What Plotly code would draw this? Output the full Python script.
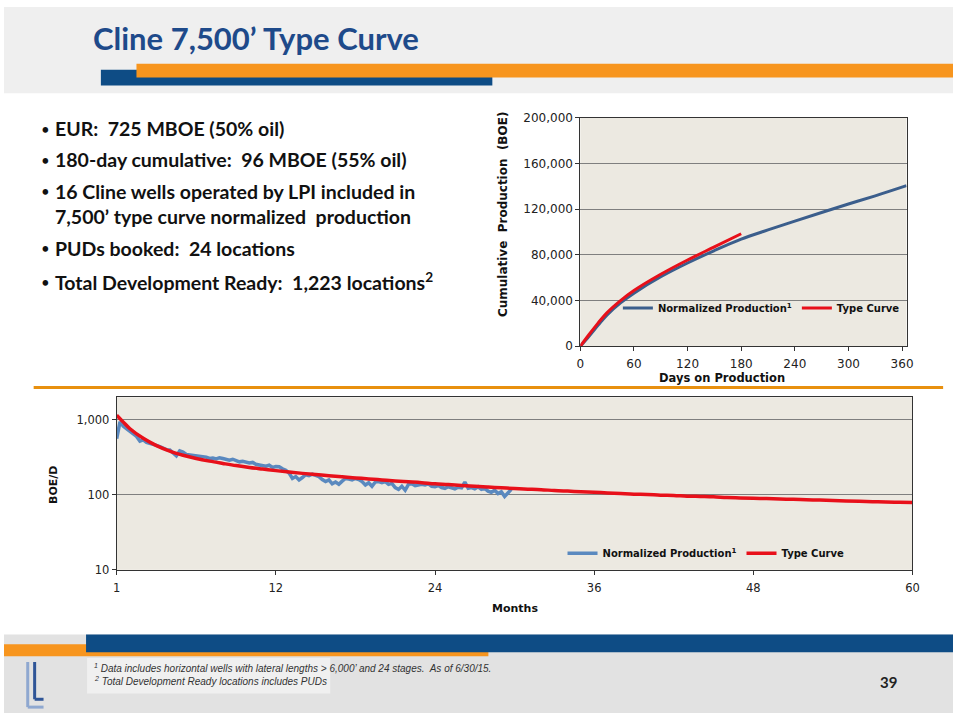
import plotly.graph_objects as go

# ----------------------------------------
# Top chart: cumulative production (BOE) vs days on production
cum_days_norm = [0, 10, 20, 30, 45, 60, 90, 120, 150, 180, 210, 240, 270, 300, 330, 365]
cum_boe_norm = [0, 9000, 18500, 27500, 38000, 46500, 60800, 72900, 83800, 93800,
                101900, 109600, 117100, 124500, 131700, 140600]
cum_days_tc = [0, 10, 20, 30, 45, 60, 90, 120, 150, 180]
cum_boe_tc = [0, 10500, 20500, 29500, 40000, 48800, 63000, 75500, 87000, 98500]

# ----------------------------------------
# Bottom chart: rate (BOE/D) vs months
tc_months = [0, 0.5] + list(range(1, 61))
tc_rate = [1150, 930, 760, 566, 452, 382, 337, 305, 281, 262, 245, 231,
           220, 210, 201, 193, 186, 180, 174, 168, 163, 158,
           153, 149, 145, 140, 137, 133, 130, 127, 124, 121,
           119, 117, 114, 112, 110, 108, 106, 104, 102, 101,
           99, 98, 96, 95, 94, 92, 91, 90, 89, 88,
           87, 86, 85, 84, 83, 82, 81, 80, 79.5, 79]

norm_step = 0.25
norm_rate = [560, 940, 820, 760, 700, 640, 600, 520, 540, 500, 480, 470,
             455, 440, 420, 400, 395, 360, 330, 385, 370, 345, 340, 330,
             325, 320, 315, 318, 305, 310, 300, 312, 305, 295, 290, 298,
             285, 275, 280, 270, 265, 270, 255, 250, 245, 240, 248, 232,
             238, 236, 222, 212, 195, 165, 175, 158, 170, 185, 180, 188,
             182, 175, 160, 150, 158, 140, 148, 138, 152, 165, 162, 158,
             165, 160, 150, 135, 145, 130, 148, 150, 145, 150, 138, 142,
             125, 118, 130, 115, 138, 140, 132, 135, 138, 135, 140, 130,
             128, 133, 125, 122, 128, 124, 120, 126, 124, 148, 122, 125,
             120, 128, 118, 122, 112, 108, 115, 104, 110, 95, 105, 118]
norm_months = [i * norm_step for i in range(len(norm_rate))]

month_ticks = [0, 12, 24, 36, 48, 60]
month_labels = ["1", "12", "24", "36", "48", "60"]

bullets = [
    "EUR:  725 MBOE (50% oil)",
    "180-day cumulative:  96 MBOE (55% oil)",
    "16 Cline wells operated by LPI included in<br>7,500\u2019 type curve normalized  production",
    "PUDs booked:  24 locations",
    "Total Development Ready:  1,223 locations<sup>2</sup>",
]
bullet_y = [124, 156, 188, 246, 280]
text_y = [124, 156, 200.5, 246, 280]

BLUE = "#3B5E8C"
BLUE_LIGHT = "#5A89BF"
RED = "#E8101A"
PLOT_BG = "#ECE9E1"
GRID = "#7F7F7F"
W, H = 960, 720


def px(x):
    return x / W


def py(y):
    return 1 - y / H


fig = go.Figure()

fig.add_trace(go.Scatter(x=cum_days_norm, y=cum_boe_norm, mode="lines", line_shape="spline",
                         name="Normalized Production<sup>1</sup>",
                         line=dict(color=BLUE, width=3), xaxis="x", yaxis="y", legend="legend"))
fig.add_trace(go.Scatter(x=cum_days_tc, y=cum_boe_tc, mode="lines", line_shape="spline",
                         name="Type Curve",
                         line=dict(color=RED, width=3), xaxis="x", yaxis="y", legend="legend"))

fig.add_trace(go.Scatter(x=norm_months, y=norm_rate, mode="lines",
                         name="Normalized Production<sup>1</sup>",
                         line=dict(color=BLUE_LIGHT, width=3.5), xaxis="x2", yaxis="y2", legend="legend2"))
fig.add_trace(go.Scatter(x=tc_months, y=tc_rate, mode="lines", line_shape="spline",
                         name="Type Curve",
                         line=dict(color=RED, width=3.5), xaxis="x2", yaxis="y2", legend="legend2"))

axis_common = dict(showline=True, linecolor="#333333", linewidth=1, mirror=True,
                   ticks="outside", ticklen=4, tickcolor="#333333",
                   zeroline=False, fixedrange=True)

legend_common = dict(orientation="h", bgcolor="rgba(0,0,0,0)", yanchor="middle", xanchor="left",
                     font=dict(family="DejaVu Sans", size=10, color="#111111", weight="bold"),
                     itemwidth=30, tracegroupgap=0, entrywidth=0)

fig.update_layout(
    width=W, height=H, autosize=False,
    margin=dict(l=0, r=0, t=0, b=0),
    paper_bgcolor="white", plot_bgcolor=PLOT_BG,
    xaxis=dict(domain=[px(583), px(913)], range=[0, 365], tickvals=[0, 60, 120, 180, 240, 300, 360],
               tickfont=dict(family="DejaVu Sans", size=12, color="#222222"), ticklabelstandoff=2,
               showgrid=False, anchor="y", **axis_common),
    yaxis=dict(domain=[py(346), py(113)], range=[0, 200000], tickvals=[0, 40000, 80000, 120000, 160000, 200000],
               tickfont=dict(family="DejaVu Sans", size=12, color="#222222"),
               tickformat=",", showgrid=True, gridcolor=GRID, gridwidth=1, anchor="x", **axis_common),
    xaxis2=dict(domain=[px(114), px(919)], range=[0, 60], tickvals=month_ticks, ticktext=month_labels,
                tickfont=dict(family="DejaVu Sans", size=11.5, color="#222222"), ticklabelstandoff=3,
                showgrid=False, anchor="y2", **axis_common),
    yaxis2=dict(domain=[py(574), py(398)], type="log", range=[1, 3.3], tickvals=[10, 100, 1000],
                ticktext=["10", "100", "1,000"], showgrid=True, gridcolor=GRID, gridwidth=1,
                tickfont=dict(family="DejaVu Sans", size=11.5, color="#222222"),
                anchor="x2", **axis_common),
    legend=dict(x=px(621), y=py(307), **legend_common),
    legend2=dict(x=px(565), y=py(557), **legend_common),
    showlegend=True,
)

shapes = [
    # grey photo bands (simplified)
    dict(type="rect", xref="paper", yref="paper", x0=0, x1=1, y0=py(88), y1=1,
         fillcolor="#EFEFEF", line_width=0, layer="below"),
    dict(type="rect", xref="paper", yref="paper", x0=0, x1=1, y0=0, y1=py(640),
         fillcolor="#E2E2E2", line_width=0, layer="below"),
    dict(type="rect", xref="paper", yref="paper", x0=px(84), x1=px(330), y0=py(700), y1=py(664),
         fillcolor="#F0F0F0", line_width=0, layer="below"),
    # header bars
    dict(type="rect", xref="paper", yref="paper", x0=px(98), x1=px(494), y0=py(80), y1=py(64),
         fillcolor="#0E4C85", line_width=0),
    dict(type="rect", xref="paper", yref="paper", x0=px(134), x1=1, y0=py(72), y1=py(58),
         fillcolor="#F7951E", line_width=0),
    # separator line
    dict(type="line", xref="paper", yref="paper", x0=px(30), x1=px(950), y0=py(388), y1=py(388),
         line=dict(color="#E8900F", width=3)),
    # footer bars
    dict(type="rect", xref="paper", yref="paper", x0=0, x1=px(490), y0=py(662), y1=py(650),
         fillcolor="#F7951E", line_width=0),
    dict(type="rect", xref="paper", yref="paper", x0=px(83), x1=1, y0=py(658), y1=py(640),
         fillcolor="#0E4C85", line_width=0),
    # logo (simplified)
    dict(type="line", xref="paper", yref="paper", x0=px(24), x1=px(24), y0=py(668), y1=py(714),
         line=dict(color="#8FA8D0", width=3)),
    dict(type="line", xref="paper", yref="paper", x0=px(31), x1=px(31), y0=py(668), y1=py(706),
         line=dict(color="#2F5597", width=3)),
    dict(type="line", xref="paper", yref="paper", x0=px(24), x1=px(40), y0=py(714), y1=py(714),
         line=dict(color="#8FA8D0", width=3)),
    dict(type="line", xref="paper", yref="paper", x0=px(31), x1=px(40), y0=py(706), y1=py(706),
         line=dict(color="#2F5597", width=3)),
]

label_font = dict(family="DejaVu Sans", size=12, color="#111111")
annotations = [
    dict(text="<b>Cline 7,500\u2019 Type Curve</b>", x=px(88), y=py(32), xanchor="left", yanchor="middle",
         font=dict(family="Lato", size=31, color="#1E4A8A")),
    dict(text="<b>Cumulative  Production  (BOE)</b>", x=px(505), y=py(212), textangle=-90,
         xanchor="center", yanchor="middle", font=label_font),
    dict(text="<b>Days on Production</b>", x=px(726), y=py(378), xanchor="center", yanchor="middle",
         font=dict(family="DejaVu Sans", size=11.5, color="#111111")),
    dict(text="<b>BOE/D</b>", x=px(50), y=py(487), textangle=-90, xanchor="center", yanchor="middle",
         font=dict(family="DejaVu Sans", size=11, color="#111111")),
    dict(text="<b>Months</b>", x=px(517), y=py(613), xanchor="center", yanchor="middle",
         font=dict(family="DejaVu Sans", size=11, color="#111111")),
    dict(text="<i><sup>1</sup> Data includes horizontal wells with lateral lengths > 6,000\u2019 and 24 stages.  As of 6/30/15.</i>",
         x=px(89), y=py(674), xanchor="left", yanchor="middle",
         font=dict(family="Liberation Sans", size=10, color="#333333")),
    dict(text="<i><sup>2</sup> Total Development Ready locations includes PUDs</i>",
         x=px(89), y=py(687), xanchor="left", yanchor="middle",
         font=dict(family="Liberation Sans", size=10, color="#333333")),
    dict(text="<b>39</b>", x=px(895), y=py(688), xanchor="center", yanchor="middle",
         font=dict(family="Lato", size=15, color="#222222")),
]

for text, by, ty in zip(bullets, bullet_y, text_y):
    annotations.append(dict(text="\u2022", x=px(35), y=py(by), xanchor="left", yanchor="middle",
                            font=dict(family="Lato", size=15, color="#111111")))
    annotations.append(dict(text="<b>" + text + "</b>", x=px(50), y=py(ty), xanchor="left",
                            yanchor="middle", align="left",
                            font=dict(family="Lato", size=19.5, color="#111111")))

for a in annotations:
    a.setdefault("xref", "paper")
    a.setdefault("yref", "paper")
    a.setdefault("showarrow", False)

fig.update_layout(shapes=shapes, annotations=annotations)

page_css = ("document.documentElement.style.cssText='margin:0;padding:0;overflow:hidden;width:960px;height:720px';"
            "document.body.style.cssText='margin:0;padding:0;overflow:hidden;width:960px;height:720px';")
fig.write_html("out.html", config={"displayModeBar": False}, post_script=page_css)
